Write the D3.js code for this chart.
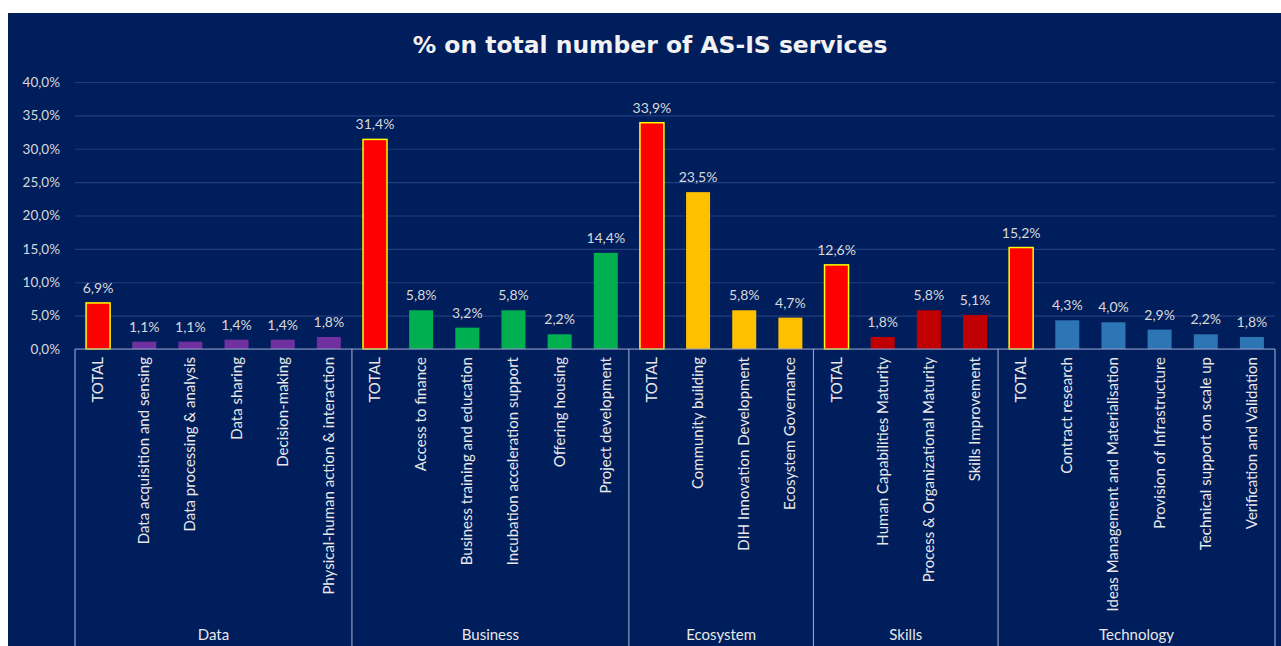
<!DOCTYPE html>
<html>
<head>
<meta charset="utf-8">
<script src="https://cdn.jsdelivr.net/npm/d3@7"></script>
<style>
  html, body { margin: 0; padding: 0; background: #ffffff; }
  svg { display: block; }
  text { font-family: Lato, "Open Sans", sans-serif; }
</style>
</head>
<body>
<svg id="chart" width="1281" height="646"></svg>
<script>
// Service groups and their categories (first entry of each group is the group total)
const groups = ["Data", "Business", "Ecosystem", "Skills", "Technology"];

const dataCategories = ["TOTAL", "Data acquisition and sensing", "Data processing & analysis", "Data sharing", "Decision-making", "Physical-human action &  interaction"];
const dataValues = [6.9, 1.1, 1.1, 1.4, 1.4, 1.8];

const businessCategories = ["TOTAL", "Access to finance", "Business training and education", "Incubation acceleration support", "Offering housing", "Project development"];
const businessValues = [31.4, 5.8, 3.2, 5.8, 2.2, 14.4];

const ecosystemCategories = ["TOTAL", "Community building", "DIH Innovation Development", "Ecosystem Governance"];
const ecosystemValues = [33.9, 23.5, 5.8, 4.7];

const skillsCategories = ["TOTAL", "Human Capabilities Maturity", "Process & Organizational Maturity", "Skills Improvement"];
const skillsValues = [12.6, 1.8, 5.8, 5.1];

const technologyCategories = ["TOTAL", "Contract research", "Ideas Management and Materialisation", "Provision of Infrastructure", "Technical support on scale up", "Verification and Validation"];
const technologyValues = [15.2, 4.3, 4.0, 2.9, 2.2, 1.8];

const yTicks = [0, 5, 10, 15, 20, 25, 30, 35, 40];

const groupCategories = [dataCategories, businessCategories, ecosystemCategories, skillsCategories, technologyCategories];
const groupValues = [dataValues, businessValues, ecosystemValues, skillsValues, technologyValues];
const groupColors = ["#7030a0", "#00b050", "#ffc000", "#c00000", "#2e75b6"];

// Flatten into one row per bar
const rows = [];
groups.forEach((g, gi) => {
  groupCategories[gi].forEach((c, ci) => {
    rows.push({ key: g + "|" + c, group: g, gi, name: c, value: groupValues[gi][ci], total: c === "TOTAL" });
  });
});

const svg = d3.select("#chart");
const W = 1281, H = 646;

// Panel background
svg.append("rect").attr("x", 8).attr("y", 13).attr("width", W - 8).attr("height", H - 13).attr("fill", "#001e5c");

const plotLeft = 75, plotRight = 1275, plotTop = 82, plotBottom = 349;

const x = d3.scaleBand()
  .domain(rows.map(d => d.key))
  .range([plotLeft, plotRight])
  .paddingInner(0.48)
  .paddingOuter(0.24);

const y = d3.scaleLinear().domain([0, 40]).range([plotBottom, plotTop]);

const locale = d3.formatLocale({ decimal: ",", thousands: ".", grouping: [3], currency: ["", "€"] });
const fmt1 = locale.format(".1f");

// Title
const title = svg.append("text")
  .attr("x", 650).attr("y", 53)
  .attr("text-anchor", "middle")
  .attr("fill", "#f2f2f2")
  .attr("font-size", 21)
  .attr("font-weight", 700)
  .style("font-family", "'DejaVu Sans', Verdana, sans-serif")
  .text("% on total number of AS-IS services");
// size the title to span its slot across the header
const tw = title.node().getComputedTextLength();
title.attr("font-size", 21 * 475 / tw);

// Gridlines and y labels
const yAxis = d3.axisLeft(y)
  .tickValues(yTicks)
  .tickSize(-(plotRight - plotLeft))
  .tickPadding(15)
  .tickFormat(v => fmt1(v) + "%");

const gy = svg.append("g").attr("transform", `translate(${plotLeft},0)`).call(yAxis);
gy.select(".domain").remove();
gy.selectAll(".tick line").attr("stroke", "#223c7e").attr("stroke-width", 1.2);
gy.selectAll(".tick text")
  .attr("fill", "#d9d9d9")
  .attr("font-size", 13.5)
  .style("font-family", "Lato, sans-serif");

// Bars
svg.append("g").selectAll("rect")
  .data(rows)
  .join("rect")
  .attr("x", d => x(d.key))
  .attr("y", d => y(d.value))
  .attr("width", x.bandwidth())
  .attr("height", d => y(0) - y(d.value))
  .attr("fill", d => d.total ? "#ff0000" : groupColors[d.gi])
  .attr("stroke", d => d.total ? "#ffff00" : "none")
  .attr("stroke-width", 1.5);

// Value labels
svg.append("g").selectAll("text")
  .data(rows)
  .join("text")
  .attr("x", d => x(d.key) + x.bandwidth() / 2)
  .attr("y", d => y(d.value) - 10)
  .attr("text-anchor", "middle")
  .attr("fill", "#d9d9d9")
  .attr("font-size", 14)
  .text(d => fmt1(d.value) + "%");

// Category axis: baseline and group separators
const axisColor = "#8d9cc4";
svg.append("line")
  .attr("x1", plotLeft).attr("x2", plotRight)
  .attr("y1", plotBottom).attr("y2", plotBottom)
  .attr("stroke", axisColor).attr("stroke-width", 1.2);

const groupBounds = groups.map(g => {
  const keys = rows.filter(r => r.group === g).map(r => r.key);
  const start = x(keys[0]) - x.step() * x.paddingInner() / 2;
  const end = x(keys[keys.length - 1]) + x.bandwidth() + x.step() * x.paddingInner() / 2;
  return { g, start, end };
});
groupBounds[0].start = plotLeft;
groupBounds[groupBounds.length - 1].end = plotRight;

const sepX = [groupBounds[0].start].concat(groupBounds.map(b => b.end));
svg.append("g").selectAll("line")
  .data(sepX)
  .join("line")
  .attr("x1", d => d).attr("x2", d => d)
  .attr("y1", plotBottom).attr("y2", H)
  .attr("stroke", axisColor).attr("stroke-width", 1.2);

// Rotated category names
svg.append("g").selectAll("text")
  .data(rows)
  .join("text")
  .attr("transform", d => `translate(${x(d.key) + x.bandwidth() / 2 + 5},${plotBottom + 8}) rotate(-90)`)
  .attr("text-anchor", "end")
  .attr("fill", "#e8e8e8")
  .attr("font-size", 15)
  .text(d => d.name);

// Group names
svg.append("g").selectAll("text")
  .data(groupBounds)
  .join("text")
  .attr("x", d => (d.start + d.end) / 2)
  .attr("y", 640)
  .attr("text-anchor", "middle")
  .attr("fill", "#e8e8e8")
  .attr("font-size", 15)
  .text(d => d.g);
</script>
</body>
</html>
